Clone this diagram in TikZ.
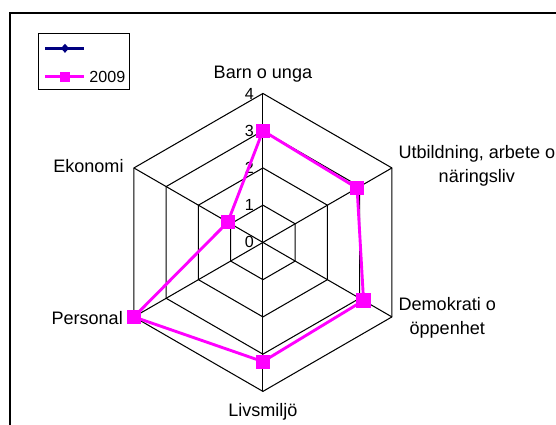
\documentclass[tikz,border=0pt]{standalone}
\usepackage{fontspec}
\setmainfont{Liberation Sans}
\usepackage{tikz}
\usetikzlibrary{shapes.geometric}
\definecolor{navy}{HTML}{000080}
\definecolor{pink}{HTML}{FF00FF}
\tikzset{
  lab/.style={font=\fontsize{13.8}{18}\selectfont, align=center, inner sep=1pt},
  tick/.style={font=\fontsize{12.3}{14}\selectfont, anchor=east, inner sep=1pt},
  gridLine/.style={draw=black, line width=0.8pt},
  frameLine/.style={draw=black, line width=1.5pt},
  series/.style={draw=pink, line width=2.2pt},
  sqMark/.style={rectangle, fill=pink, minimum size=0.38cm, inner sep=0pt},
  keySq/.style={rectangle, fill=pink, minimum size=0.27cm, inner sep=0pt},
  keyDm/.style={diamond, fill=navy, minimum width=0.22cm, minimum height=0.25cm, inner sep=0pt}
}

\begin{document}
\begin{tikzpicture}
  \useasboundingbox (-7.06,-4.90) rectangle (7.87,6.51);

  % Frame
  \draw[frameLine] (-6.79,-5.0) |- (8.0,6.17);

  % Grid
  \foreach \r in {1,...,4}
    \draw[gridLine] (90:\r) -- (30:\r) -- (-30:\r) -- (-90:\r) -- (210:\r) -- (150:\r) -- cycle;
  \foreach \a in {90,30,-30,-90,210,150}
    \draw[gridLine] (0,0) -- (\a:4);

  % Scale
  \foreach \v in {0,...,4}
    \node[tick] (t\v) at (-0.2,\v) {\v};

  % Axis labels
  \node[lab] (barn) at (0,4.52) {Barn o unga};
  \node[lab] (utb) at (5.745,2.05) {Utbildning, arbete o\\n\"aringsliv};
  \node[lab] (demo) at (4.95,-2.03) {Demokrati o\\\"oppenhet};
  \node[lab] (livs) at (0,-4.54) {Livsmilj\"o};
  \node[lab, anchor=east] (pers) at (-3.72,-2.03) {Personal};
  \node[lab, anchor=east] (eko) at (-3.7,2.06) {Ekonomi};

  % 2009
  \coordinate (d1) at (90:3);
  \coordinate (d2) at (30:2.92);
  \coordinate (d3) at (-30:3.12);
  \coordinate (d4) at (-90:3.2);
  \coordinate (d5) at (210:4);
  \coordinate (d6) at (150:1.09);
  \draw[series, line join=round] (d1) -- (d2) -- (d3) -- (d4) -- (d5) -- (d6) -- cycle;
  \foreach \i in {1,...,6}
    \node[sqMark] (m\i) at (d\i) {};

  % Legend
  \draw[gridLine] (-6.03,4.094) rectangle (-3.59,5.616);
  \coordinate (keyA) at (-5.85,5.213);
  \coordinate (keyB) at (-5.85,4.451);
  \draw[navy, line width=2pt] (keyA) -- ++(1.05,0);
  \node[keyDm] (dmA) at ([xshift=0.535cm]keyA) {};
  \draw[series] (keyB) -- ++(1.05,0);
  \node[keySq] (sqB) at ([xshift=0.535cm]keyB) {};
  \node[tick, anchor=west] (yr) at (-4.70,4.451) {2009};
\end{tikzpicture}
\end{document}
